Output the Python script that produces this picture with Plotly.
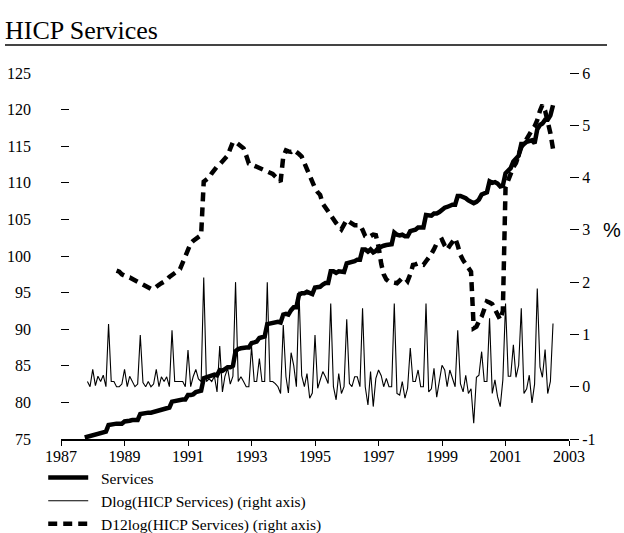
import pandas as pd
import plotly.graph_objects as go

# Monthly HICP services index (left axis), Oct 1987 - Jul 2002
services_start = "1987-10-01"
services = [
    75.2, 75.3, 75.5, 75.5, 75.7, 75.8, 75.9, 76.0, 76.0,
    76.9, 77.0, 77.0, 77.1, 77.1, 77.1, 77.4, 77.4, 77.5, 77.6, 77.6, 77.6,
    78.4, 78.5, 78.5, 78.6, 78.6, 78.7, 78.9, 78.9, 79.1, 79.2, 79.3, 79.3,
    80.1, 80.2, 80.3, 80.3, 80.4, 80.4, 81.0, 81.0, 81.1, 81.4, 81.5, 81.6,
    83.3, 83.4, 83.5, 83.6, 83.8, 83.7, 84.4, 84.3, 84.5, 84.8, 84.8, 85.0,
    87.0, 87.3, 87.4, 87.5, 87.5, 87.5, 88.1, 88.2, 88.3, 88.8, 88.9, 89.0,
    90.7, 90.8, 90.9, 90.9, 91.0, 90.9, 92.0, 92.1, 92.0, 92.6, 93.0, 93.0,
    94.7, 94.9, 94.9, 95.1, 94.9, 94.8, 95.7, 95.7, 95.8, 96.1, 96.3, 96.3,
    97.9, 97.9, 97.7, 97.9, 97.8, 97.8, 99.0, 99.1, 99.1, 99.3, 99.5, 99.5,
    100.9, 100.9, 100.6, 100.9, 100.5, 100.7, 101.1, 101.3, 101.4, 101.5, 101.5, 101.6,
    103.2, 102.9, 102.8, 102.9, 102.7, 102.7, 103.4, 103.5, 103.6, 103.9, 103.9, 103.9,
    105.6, 105.5, 105.5, 105.8, 105.8, 106.0, 106.4, 106.6, 106.7, 106.9, 107.0, 107.0,
    108.2, 108.2, 108.1, 107.9, 107.6, 107.4, 107.2, 107.4, 107.7, 108.4, 108.5, 108.7,
    110.2, 110.0, 110.1, 109.9, 109.5, 109.6, 111.3, 111.6, 112.0, 112.9, 113.2, 113.7,
    115.3, 115.3, 115.6, 115.7, 115.8, 115.4, 117.3, 117.9, 118.1, 118.6, 118.6, 119.2,
    120.6,
]

# Month-on-month log change in %, Nov 1987 - Jul 2002 (right axis)
dlog_start = "1987-11-01"
dlog = [
    0.10, 0.00, 0.33, 0.02, 0.20, 0.10, 0.22, 0.00,
    1.20, 0.10, 0.10, 0.00, 0.00, 0.05, 0.33, 0.00, 0.20, 0.10, 0.00, 0.05,
    0.99, 0.08, 0.00, 0.10, 0.00, 0.05, 0.33, 0.00, 0.19, 0.10, 0.19, 0.00,
    1.08, 0.10, 0.10, 0.10, 0.10, 0.00, 0.70, 0.00, 0.19, 0.33, 0.15, 0.10,
    2.09, 0.10, 0.15, 0.10, 0.20, -0.10, 0.78, -0.10, 0.20, 0.35, 0.05, 0.20,
    2.00, 0.10, 0.19, 0.10, 0.00, 0.00, 0.77, 0.10, 0.10, 0.54, 0.10, 0.10,
    2.00, 0.10, 0.10, 0.06, 0.00, -0.13, 1.18, 0.19, -0.12, 0.65, 0.41, 0.00,
    1.82, 0.21, 0.00, 0.25, -0.22, -0.12, 0.99, -0.03, 0.13, 0.29, 0.19, 0.06,
    1.59, 0.00, -0.25, 0.25, -0.13, 0.00, 1.29, 0.06, 0.00, 0.19, 0.19, 0.00,
    1.50, 0.00, -0.35, 0.29, -0.38, 0.16, 0.32, 0.21, 0.00, 0.16, 0.00, 0.00,
    1.59, -0.13, -0.16, 0.10, -0.22, -0.03, 0.74, 0.10, 0.10, 0.32, 0.00, 0.00,
    1.59, -0.10, -0.04, 0.35, -0.20, 0.10, 0.41, 0.32, 0.00, 0.32, 0.16, 0.00,
    1.08, 0.06, -0.10, 0.22, -0.13, -0.04, -0.70, 0.18, 0.22, 0.67, 0.10, 0.10,
    1.31, -0.13, 0.13, -0.19, -0.38, 0.13, 1.59, 0.20, 0.20, 0.80, 0.18, 0.41,
    1.50, -0.13, -0.04, 0.22, -0.31, 0.05, 1.88, 0.38, 0.18, 0.71, -0.13, 0.10,
    1.21,
]

# Year-on-year log change in %, Oct 1988 - Jul 2002 (right axis)
d12log_start = "1988-10-01"
d12log = [
    2.22, 2.20, 2.15, 2.12, 2.10, 2.09, 2.06, 2.03, 2.00, 1.98,
    1.95, 1.93, 1.89, 1.87, 1.87, 1.92, 1.95, 1.98, 2.01, 2.04,
    2.10, 2.13, 2.17, 2.21, 2.25, 2.38, 2.52, 2.62, 2.74, 2.79,
    2.83, 2.86, 2.90, 3.92, 3.95, 4.00, 4.08, 4.15, 4.21, 4.25,
    4.30, 4.34, 4.42, 4.55, 4.68, 4.68, 4.64, 4.60, 4.56, 4.42,
    4.27, 4.25, 4.23, 4.21, 4.18, 4.17, 4.14, 4.12, 4.11, 4.07,
    4.02, 3.98, 3.92, 4.40, 4.52, 4.50, 4.49, 4.53, 4.50, 4.45,
    4.40, 4.28, 4.14, 4.02, 3.90, 3.80, 3.72, 3.67, 3.50, 3.42,
    3.35, 3.27, 3.19, 3.13, 3.07, 3.01, 3.10, 3.19, 3.15, 3.12,
    3.09, 3.09, 3.09, 3.00, 2.88, 2.85, 2.88, 2.91, 2.90, 2.68,
    2.35, 2.15, 2.05, 2.01, 2.00, 1.99, 1.98, 2.03, 2.08, 2.08,
    2.02, 2.15, 2.33, 2.34, 2.36, 2.34, 2.33, 2.40, 2.46, 2.54,
    2.63, 2.74, 2.78, 2.81, 2.70, 2.62, 2.70, 2.78, 2.84, 2.70,
    2.52, 2.42, 2.35, 2.28, 2.20, 1.12, 1.15, 1.25, 1.34, 1.48,
    1.63, 1.61, 1.58, 1.48, 1.38, 1.28, 1.45, 3.82, 3.95, 4.10,
    4.20, 4.28, 4.45, 4.58, 4.65, 4.75, 4.83, 4.91, 4.98, 5.10,
    5.28, 5.39, 5.28, 5.10, 4.85, 4.55,
]

year_ticks = list(range(1987, 2004, 2))
left_ticks = list(range(75, 126, 5))
right_ticks = list(range(-1, 7))

serif = "Liberation Serif, Times New Roman, serif"
pad = "\u00a0\u00a0"  # small gap between legend sample and label

def monthly(start, values):
    return pd.date_range(start, periods=len(values), freq="MS")

fig = go.Figure()
fig.add_trace(go.Scatter(
    x=monthly(services_start, services), y=services, name=pad + "Services",
    mode="lines", line=dict(color="black", width=4.5), yaxis="y",
))
fig.add_trace(go.Scatter(
    x=monthly(dlog_start, dlog), y=dlog, name=pad + "Dlog(HICP Services) (right axis)",
    mode="lines", line=dict(color="black", width=1.1), yaxis="y2",
))
fig.add_trace(go.Scatter(
    x=monthly(d12log_start, d12log), y=d12log, name=pad + "D12log(HICP Services) (right axis)",
    mode="lines", line=dict(color="black", width=4.5, dash="9px,6px"), yaxis="y2",
))

fig.update_layout(
    width=624, height=533,
    margin=dict(l=61, r=55, t=73, b=94, autoexpand=False),
    paper_bgcolor="white", plot_bgcolor="white",
    font=dict(family=serif, size=16, color="black"),
    title=dict(
        text="HICP Services", font=dict(family=serif, size=26, color="black"),
        xref="container", x=5 / 624, xanchor="left",
        yref="container", y=1 - 30 / 533, yanchor="middle",
    ),
    xaxis=dict(
        type="date",
        range=[f"{year_ticks[0]}-01-01", f"{year_ticks[-1]}-01-01"],
        tickvals=[f"{y}-01-01" for y in year_ticks],
        ticktext=[str(y) for y in year_ticks],
        showline=True, linecolor="black", linewidth=1.5,
        ticks="outside", ticklen=5, tickcolor="black", tickwidth=1,
        ticklabelstandoff=-3,
        showgrid=False, zeroline=False,
        tickfont=dict(family=serif, size=16),
    ),
    yaxis=dict(
        range=[left_ticks[0], left_ticks[-1]],
        tickvals=left_ticks, ticktext=[str(v) for v in left_ticks],
        ticks="inside", ticklen=8, tickcolor="black", tickwidth=1,
        ticklabelstandoff=29,
        showline=False, showgrid=False, zeroline=False,
        tickfont=dict(family=serif, size=16),
    ),
    yaxis2=dict(
        overlaying="y", side="right",
        range=[right_ticks[0], right_ticks[-1]],
        tickvals=right_ticks, ticktext=[str(v) for v in right_ticks],
        ticks="outside", ticklen=9, tickcolor="black", tickwidth=1,
        showline=False, showgrid=False, zeroline=False,
        tickfont=dict(family=serif, size=16),
    ),
    legend=dict(
        x=-0.035, y=-0.06, xanchor="left", yanchor="top",
        orientation="v", bgcolor="rgba(0,0,0,0)",
        font=dict(family=serif, size=15.5, color="black"),
        itemwidth=40, tracegroupgap=0,
    ),
    showlegend=True,
)

# rule under the title
fig.add_shape(
    type="line", xref="paper", yref="paper",
    x0=(5 - 61) / 508, x1=(607 - 61) / 508,
    y0=(439 - 45) / 366, y1=(439 - 45) / 366,
    line=dict(color="#444444", width=2),
)

# unit label for the right axis
fig.add_annotation(
    text="%", xref="paper", yref="y2", x=1.085, y=3,
    showarrow=False, xanchor="center", yanchor="middle",
    font=dict(family="Liberation Sans, Arial, sans-serif", size=20, color="black"),
)

fig.write_html("out.html")
